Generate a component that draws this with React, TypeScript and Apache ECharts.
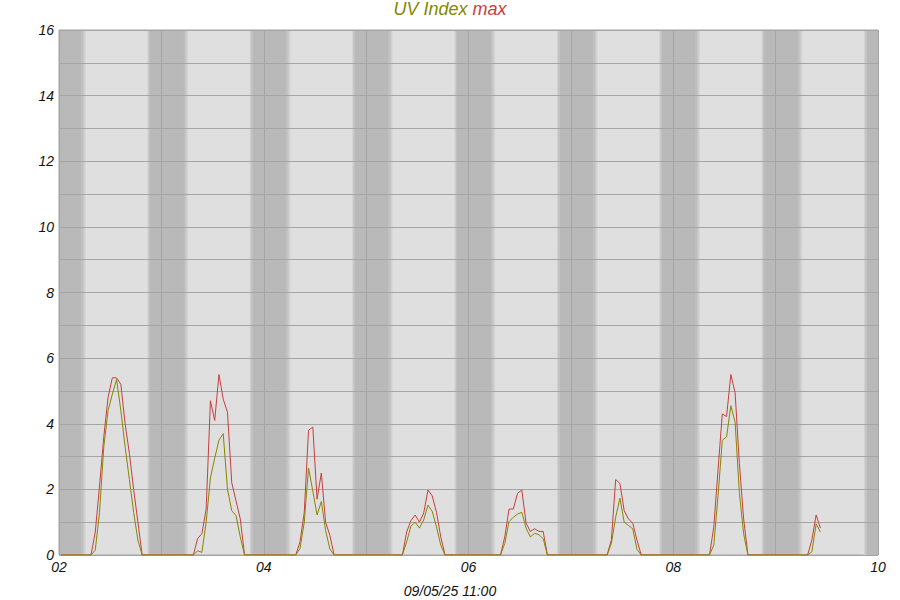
import React, { useEffect, useRef } from "react";
import * as echarts from "echarts";

// x axis is hours since 02 May 2025 00:00
const dayLabels = ["02", "03", "04", "05", "06", "07", "08", "09", "10"];
const footerText = "09/05/25 11:00";

// start hour of each daylight UV episode
const peakStart = [7.5, 31.5, 55.5, 80.5, 103.5, 128.5, 152.5, 175.5];

// hourly UV Index values (olive)
const uvIndex = [
  [0, 0.15, 1.3, 3.3, 4.4, 4.9, 5.35, 4.4, 3.3, 2.3, 1.3, 0.45, 0],
  [0, 0.13, 0.08, 1.0, 2.35, 2.95, 3.5, 3.7, 2.0, 1.35, 1.2, 0.55, 0],
  [0, 0.2, 1.0, 2.65, 1.95, 1.22, 1.63, 0.75, 0.18, 0],
  [0, 0.4, 0.88, 1.0, 0.82, 1.07, 1.52, 1.33, 0.85, 0.3, 0],
  [0, 0.35, 1.02, 1.15, 1.25, 1.3, 0.82, 0.55, 0.66, 0.62, 0.5, 0],
  [0, 0.36, 1.15, 1.73, 1.0, 0.9, 0.8, 0.17, 0],
  [0, 0.3, 1.8, 3.5, 3.6, 4.55, 4.05, 1.9, 0.65, 0],
  [0, 0.1, 0.95, 0.7],
];

// hourly UV Index max values (red)
const uvMax = [
  [0, 0.7, 2.1, 3.6, 4.8, 5.4, 5.4, 5.2, 4.0, 3.1, 2.0, 1.0, 0],
  [0, 0.5, 0.65, 1.4, 4.7, 4.1, 5.5, 4.75, 4.35, 2.2, 1.65, 1.1, 0],
  [0, 0.4, 1.3, 3.8, 3.9, 1.7, 2.5, 1.0, 0.6, 0],
  [0, 0.7, 1.05, 1.22, 1.0, 1.28, 1.98, 1.8, 1.3, 0.55, 0],
  [0, 0.55, 1.4, 1.4, 1.88, 1.98, 0.97, 0.72, 0.8, 0.72, 0.72, 0],
  [0, 0.46, 2.3, 2.18, 1.35, 1.1, 0.97, 0.45, 0],
  [0, 0.85, 2.6, 4.3, 4.22, 5.5, 4.95, 2.8, 1.1, 0],
  [0, 0.46, 1.22, 0.82],
];

// night shading, hours relative to each midnight
const duskStart = -3.4; // twilight begins
const nightStart = -2.7; // full dark
const nightEnd = 5.3; // dawn begins
const dawnEnd = 6.4; // full light
const axisMin = 0;
const axisMax = 192;

const OLIVE = "#868600";
const RED = "#c83e3e";
const LIGHT = "#dfdfdf";
const DARK = "#b9b9b9";
const GRIDC = "#a5a5a5";
const FONT = "'Liberation Sans', Arial, sans-serif";

function buildSeries(vals: number[][]) {
  const out: number[][] = [[0.5, 0]];
  vals.forEach((arr, i) => {
    arr.forEach((v, j) => out.push([peakStart[i] + j, v]));
  });
  return out;
}

function clampX(v: number) {
  return Math.max(axisMin, Math.min(axisMax, v));
}

function buildNightAreas() {
  const areas: any[] = [];
  for (let d = 0; d < dayLabels.length; d++) {
    const mid = d * 24;
    const segs: [number, number, any][] = [
      [
        mid + duskStart,
        mid + nightStart,
        new echarts.graphic.LinearGradient(0, 0, 1, 0, [
          { offset: 0, color: LIGHT },
          { offset: 1, color: DARK },
        ]),
      ],
      [mid + nightStart, mid + nightEnd, DARK],
      [
        mid + nightEnd,
        mid + dawnEnd,
        new echarts.graphic.LinearGradient(0, 0, 1, 0, [
          { offset: 0, color: DARK },
          { offset: 1, color: LIGHT },
        ]),
      ],
    ];
    segs.forEach(([a, b, c]) => {
      const ca = clampX(a);
      const cb = clampX(b);
      if (cb - ca <= 0) return;
      areas.push([
        { xAxis: ca, itemStyle: { color: c, opacity: 1 } },
        { xAxis: cb },
      ]);
    });
  }
  return areas;
}

export default function App() {
  const ref = useRef<HTMLDivElement>(null);
  useEffect(() => {
    if (!ref.current) return;
    const chart = echarts.init(ref.current, null, { renderer: "svg" });
    const labelStyle = {
      fontStyle: "italic" as const,
      fontFamily: FONT,
      fontSize: 14,
      color: "#111",
    };
    chart.setOption({
      animation: false,
      backgroundColor: "#ffffff",
      title: [
        {
          text: "{a|UV Index} {b|max}",
          left: "center",
          top: 0,
          padding: 0,
          textStyle: {
            fontWeight: "normal",
            fontStyle: "italic",
            fontSize: 18,
            fontFamily: FONT,
            rich: {
              a: { color: OLIVE, fontSize: 18, fontStyle: "italic", fontWeight: "normal", fontFamily: FONT },
              b: { color: RED, fontSize: 18, fontStyle: "italic", fontWeight: "normal", fontFamily: FONT },
            },
          },
        },
        {
          text: footerText,
          left: "center",
          top: 584,
          padding: 0,
          textStyle: { ...labelStyle, fontWeight: "normal" },
        },
      ],
      grid: {
        left: 59,
        right: 22,
        top: 30,
        bottom: 45,
        show: true,
        backgroundColor: LIGHT,
        borderColor: GRIDC,
        borderWidth: 1,
      },
      xAxis: {
        type: "value",
        min: axisMin,
        max: axisMax,
        interval: 24,
        z: 3,
        axisLine: { show: false },
        axisTick: { show: false },
        splitLine: { show: true, lineStyle: { color: GRIDC, width: 1 } },
        axisLabel: {
          ...labelStyle,
          margin: 5,
          formatter: (v: number) => {
            const i = Math.round(v / 24);
            return i % 2 === 0 ? dayLabels[i] : "";
          },
        },
      },
      yAxis: {
        type: "value",
        min: 0,
        max: 16,
        interval: 1,
        z: 3,
        axisLine: { show: false },
        axisTick: { show: false },
        splitLine: { show: true, lineStyle: { color: GRIDC, width: 1 } },
        axisLabel: {
          ...labelStyle,
          margin: 5,
          formatter: (v: number) => (Math.round(v) % 2 === 0 ? String(v) : ""),
        },
      },
      series: [
        {
          type: "line",
          name: "night",
          z: 1,
          data: [],
          silent: true,
          markArea: { silent: true, data: buildNightAreas() },
        },
        {
          type: "line",
          name: "max",
          z: 5,
          data: buildSeries(uvMax),
          showSymbol: false,
          lineStyle: { color: RED, width: 1 },
          itemStyle: { color: RED },
        },
        {
          type: "line",
          name: "UV Index",
          z: 6,
          data: buildSeries(uvIndex),
          showSymbol: false,
          lineStyle: { color: OLIVE, width: 1 },
          itemStyle: { color: OLIVE },
        },
      ],
    });
    return () => chart.dispose();
  }, []);
  return (
    <div
      ref={ref}
      style={{ position: "absolute", left: 0, top: 0, width: 900, height: 600 }}
    />
  );
}
